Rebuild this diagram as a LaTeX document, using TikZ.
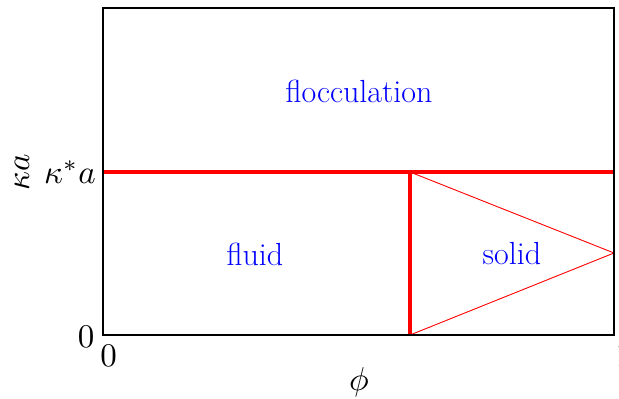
\documentclass[tikz,border=0pt]{standalone}
\begin{document}
\begin{tikzpicture}[x=1pt,y=-1pt,
  lbl/.style={font=\fontsize{32}{36}\selectfont, inner sep=0pt},
  axl/.style={font=\fontsize{10}{12}\selectfont, scale=3.3, inner sep=0pt},
  region/.style={lbl, text=blue},
  thickred/.style={red, line width=4pt},
  thinred/.style={red, line width=0.9pt}]
\useasboundingbox (0,0) rectangle (619,399);
\coordinate (tl) at (103,8);
\coordinate (br) at (614,335);
\coordinate (kl) at (103,172);
\coordinate (kr) at (614,172);
\coordinate (vt) at (410,172);
\coordinate (vb) at (410,335);
\coordinate (tip) at (614,253);
\draw[thinred] (vt) -- (tip) -- (vb);
\draw[thickred] (kl) -- (kr);
\draw[thickred] (vt) -- (vb);
\draw[black, line width=1.8pt] (tl) rectangle (br);
\node[region] (floc) at (359,91) {flocculation};
\node[region] (fluid) at (255,254) {fluid};
\node[region] (solid) at (512,254) {solid};
\node[axl, rotate=90] (ylab) at (22,172) {$\kappa a$};
\node[axl, anchor=base] (kstar) at (70,183) {$\kappa^* a$};
\node[axl, anchor=base] (y0) at (86,347) {$0$};
\node[axl, anchor=base] (x0) at (108.5,366) {$0$};
\node[axl, anchor=base] (x1) at (624,366) {$1$};
\node[axl, anchor=base] (xlab) at (359,390) {$\phi$};
\end{tikzpicture}
\end{document}
